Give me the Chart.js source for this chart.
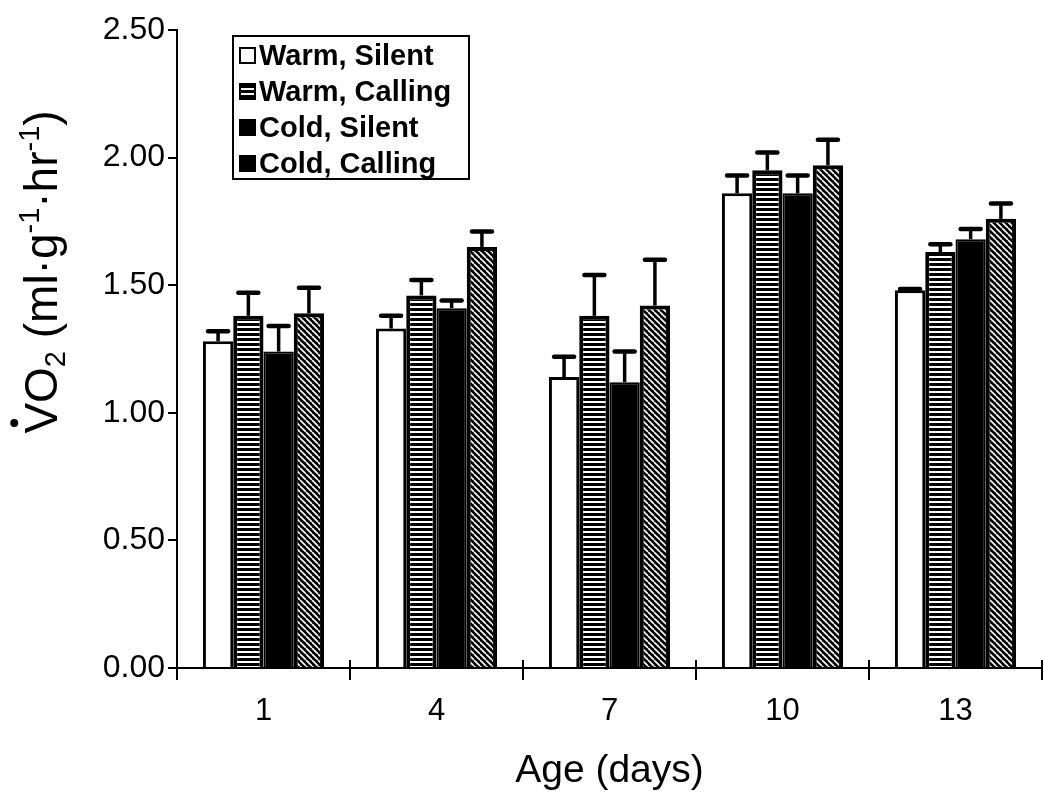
<!DOCTYPE html>
<html>
<head>
<meta charset="utf-8">
<title>VO2 by age</title>
<script src="https://cdn.jsdelivr.net/npm/chart.js@4.4.0/dist/chart.umd.min.js"></script>
<style>
  html, body { margin: 0; padding: 0; background: #fff; }
  #wrap { position: relative; width: 1043px; height: 795px; }
  #legend {
    position: absolute; left: 232px; top: 35px; width: 234px; height: 141px;
    border: 2px solid #000; background: #fff;
    font-family: "Liberation Sans", Arial, sans-serif; font-weight: bold; font-size: 29px; color: #000;
  }
  .item { position: absolute; left: 5px; height: 36px; display: flex; align-items: center; white-space: nowrap; }
  .box { width: 17px; height: 17px; margin-right: 3px; box-sizing: border-box; border: 2px solid #000; background: #000; }
</style>
</head>
<body>
<div id="wrap">
  <canvas id="chart" width="1043" height="795"></canvas>
  <div id="legend"></div>
</div>
<script>
// categorias y series
const ages = ["1", "4", "7", "10", "13"];
const seriesNames = ["Warm, Silent", "Warm, Calling", "Cold, Silent", "Cold, Calling"];

const warmSilent = [1.28, 1.33, 1.14, 1.86, 1.48];
const warmCalling = [1.38, 1.46, 1.38, 1.95, 1.63];
const coldSilent = [1.24, 1.41, 1.12, 1.86, 1.68];
const coldCalling = [1.39, 1.65, 1.42, 1.97, 1.76];

// barras de error (solo hacia arriba)
const warmSilentErr = [0.04, 0.05, 0.08, 0.07, 0.005];
const warmCallingErr = [0.09, 0.06, 0.16, 0.07, 0.03];
const coldSilentErr = [0.10, 0.03, 0.12, 0.07, 0.04];
const coldCallingErr = [0.10, 0.06, 0.18, 0.10, 0.06];

const xTitle = "Age (days)";
// titulo eje Y: [texto, 0 normal / -1 subindice / 1 superindice]
const yTitleParts = [["V", 0], ["O", 0], ["2", -1], [" (ml", 0], ["·g", 0], ["-1", 1], ["·hr", 0], ["-1", 1], [")", 0]];

const FONT = "'Liberation Sans', Arial, sans-serif";

// patrones de relleno
function makeStripes() {
  const c = document.createElement("canvas");
  c.width = 6; c.height = 5;
  const g = c.getContext("2d");
  g.fillStyle = "#000"; g.fillRect(0, 0, 6, 5);
  g.fillStyle = "#fff"; g.fillRect(0, 1, 6, 2);
  return g.createPattern(c, "repeat");
}
function makeHatch() {
  const s = 6;
  const c = document.createElement("canvas");
  c.width = s; c.height = s;
  const g = c.getContext("2d");
  g.fillStyle = "#000"; g.fillRect(0, 0, s, s);
  g.strokeStyle = "#fff"; g.lineWidth = 1.6;
  g.beginPath();
  for (const o of [-s, 0, s]) { g.moveTo(o, 0); g.lineTo(o + s, s); }
  g.stroke();
  return g.createPattern(c, "repeat");
}

// barras de error
const errorBarPlugin = {
  id: "errorBars",
  afterDatasetsDraw(chart) {
    const ctx = chart.ctx;
    const y = chart.scales.y;
    chart.data.datasets.forEach((ds, di) => {
      const meta = chart.getDatasetMeta(di);
      meta.data.forEach((bar, i) => {
        const top = y.getPixelForValue(ds.data[i] + ds.errors[i]);
        ctx.save();
        ctx.strokeStyle = "#000";
        ctx.lineWidth = 3.5;
        ctx.beginPath();
        ctx.moveTo(bar.x, bar.y);
        ctx.lineTo(bar.x, top);
        ctx.stroke();
        ctx.lineWidth = 4.5;
        ctx.lineCap = "round";
        ctx.beginPath();
        ctx.moveTo(bar.x - 10, top);
        ctx.lineTo(bar.x + 10, top);
        ctx.stroke();
        ctx.restore();
      });
    });
  }
};

// marcas del eje X que cruzan la linea + titulo del eje Y
const axisExtrasPlugin = {
  id: "axisExtras",
  afterDraw(chart) {
    const ctx = chart.ctx;
    const x = chart.scales.x;
    const n = ages.length;
    ctx.save();
    ctx.strokeStyle = "#000";
    ctx.lineWidth = 2;
    for (let i = 1; i <= n; i++) {
      const px = x.left + i * x.width / n;
      ctx.beginPath();
      ctx.moveTo(px, x.top - 8);
      ctx.lineTo(px, x.top);
      ctx.stroke();
    }
    // titulo Y rotado
    const size = 46;
    const small = Math.round(size * 0.62);
    ctx.translate(40, 272);
    ctx.rotate(-Math.PI / 2);
    ctx.fillStyle = "#000";
    ctx.textBaseline = "alphabetic";
    let total = 0;
    const widths = yTitleParts.map(([t, k]) => {
      ctx.font = (k ? small : size) + "px " + FONT;
      const w = ctx.measureText(t).width;
      total += w;
      return w;
    });
    let cx = -total / 2;
    const base = size * 0.36;
    yTitleParts.forEach(([t, k], i) => {
      ctx.font = (k ? small : size) + "px " + FONT;
      const dy = k === -1 ? size * 0.18 : (k === 1 ? -size * 0.38 : 0);
      ctx.fillText(t, cx, base + dy);
      if (i === 0) {
        ctx.beginPath();
        ctx.arc(cx + widths[0] * 0.35, base - size * 0.92, 4, 0, Math.PI * 2);
        ctx.fill();
      }
      cx += widths[i];
    });
    ctx.restore();
  }
};

const stripes = makeStripes();
const hatch = makeHatch();

const chart = new Chart(document.getElementById("chart"), {
  type: "bar",
  data: {
    labels: ages,
    datasets: [
      { label: seriesNames[0], data: warmSilent, errors: warmSilentErr, backgroundColor: "#fff", borderColor: "#000", borderWidth: 3 },
      { label: seriesNames[1], data: warmCalling, errors: warmCallingErr, backgroundColor: stripes, borderColor: "#000", borderWidth: 4 },
      { label: seriesNames[2], data: coldSilent, errors: coldSilentErr, backgroundColor: "#000", borderColor: "#000", borderWidth: 2 },
      { label: seriesNames[3], data: coldCalling, errors: coldCallingErr, backgroundColor: hatch, borderColor: "#000", borderWidth: 4 }
    ]
  },
  options: {
    responsive: false,
    animation: false,
    categoryPercentage: 0.70,
    barPercentage: 1.0,
    layout: { padding: { top: 30, right: 1, left: 0, bottom: 0 } },
    plugins: {
      legend: { display: false },
      tooltip: { enabled: false }
    },
    scales: {
      x: {
        afterFit(scale) { scale.height = 127; },
        border: { color: "#000", width: 2 },
        grid: { display: true, drawOnChartArea: false, tickLength: 12, color: "#000", lineWidth: 2, offset: true },
        ticks: { color: "#000", font: { family: FONT, size: 31 }, padding: 13 },
        title: { display: true, text: xTitle, color: "#000", font: { family: FONT, size: 39 }, padding: { top: 2, bottom: 0 } }
      },
      y: {
        min: 0, max: 2.5,
        afterFit(scale) { scale.width = 177; },
        border: { color: "#000", width: 2 },
        grid: { display: true, drawOnChartArea: false, tickLength: 9, color: "#000", lineWidth: 2 },
        ticks: { stepSize: 0.5, color: "#000", font: { family: FONT, size: 32 }, padding: 3,
                 callback: v => v.toFixed(2) }
      }
    }
  },
  plugins: [errorBarPlugin, axisExtrasPlugin]
});

// leyenda HTML
const legendIcons = [
  "background:#fff;",
  "background:repeating-linear-gradient(#000 0 3px,#fff 3px 5px);",
  "background:#000;",
  "background:#000;"
];
const legendEl = document.getElementById("legend");
seriesNames.forEach((name, i) => {
  const item = document.createElement("div");
  item.className = "item";
  item.style.top = (0 + i * 36) + "px";
  item.innerHTML = '<span class="box" style="' + legendIcons[i] + '"></span><span>' + name + "</span>";
  legendEl.appendChild(item);
});
</script>
</body>
</html>
